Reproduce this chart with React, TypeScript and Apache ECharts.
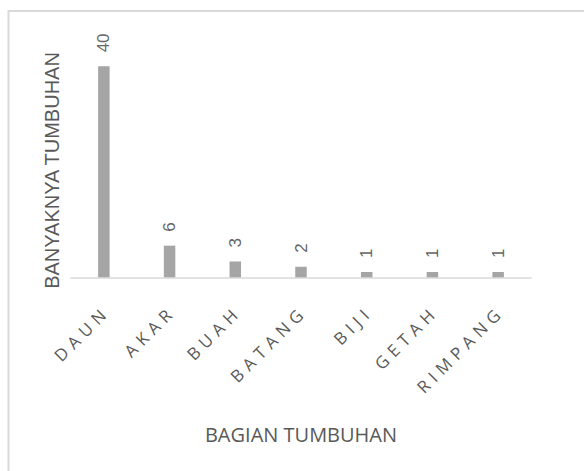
import React, { useEffect, useRef } from "react";
import * as echarts from "echarts";

const categories = ["DAUN", "AKAR", "BUAH", "BATANG", "BIJI", "GETAH", "RIMPANG"];
const values = [40, 6, 3, 2, 1, 1, 1];
const xTitle = "BAGIAN TUMBUHAN";
const yTitle = "BANYAKNYA TUMBUHAN";

export default function App() {
  const ref = useRef<HTMLDivElement>(null);
  useEffect(() => {
    if (!ref.current) return;
    const chart = echarts.init(ref.current, null, { renderer: "svg" });
    chart.setOption({
      animation: false,
      backgroundColor: "#ffffff",
      grid: { left: 71, right: 53, top: 40, bottom: 193.7 },
      xAxis: {
        type: "category",
        data: categories,
        name: xTitle,
        nameLocation: "middle",
        nameGap: 147,
        nameTextStyle: { fontFamily: "Open Sans", fontSize: 20, color: "#595959" },
        axisLine: { show: true, lineStyle: { color: "#d9d9d9", width: 1.5 } },
        axisTick: { show: false },
        axisLabel: {
          interval: 0,
          rotate: 45,
          margin: 34,
          padding: [0, -4, 0, 0],
          fontFamily: "Open Sans",
          fontSize: 17,
          color: "#595959",
        },
      },
      yAxis: {
        type: "value",
        min: 0,
        max: 45,
        interval: 5,
        axisLine: { show: false },
        axisTick: { show: false },
        axisLabel: { show: false },
        splitLine: { show: false },
      },
      graphic: [
        {
          type: "rect",
          shape: { x: 8.5, y: 11, width: 620, height: 520 },
          style: { fill: "none", stroke: "#d9d9d9", lineWidth: 2 },
          silent: true,
        },
        {
          type: "text",
          x: 52,
          y: 170.5,
          rotation: Math.PI / 2,
          style: {
            text: yTitle,
            fontFamily: "Liberation Sans",
            fontSize: 20,
            fill: "#595959",
            textAlign: "center",
            textVerticalAlign: "middle",
          },
        },
      ],
      series: [
        {
          type: "bar",
          data: values,
          barWidth: 11.5,
          itemStyle: { color: "#a5a5a5" },
          label: {
            show: true,
            position: "top",
            distance: 14,
            rotate: 90,
            align: "left",
            verticalAlign: "middle",
            fontFamily: "Liberation Sans",
            fontSize: 17,
            color: "#666666",
          },
        },
      ],
    });
    const texts = ref.current.querySelectorAll("text");
    texts.forEach((t) => {
      if (categories.includes((t.textContent || "").trim())) {
        (t as SVGTextElement).style.letterSpacing = "5.5px";
      }
    });
    return () => chart.dispose();
  }, []);
  return (
    <div
      ref={ref}
      style={{ position: "fixed", left: 0, top: 0, width: 584, height: 471, background: "#fff" }}
    />
  );
}
